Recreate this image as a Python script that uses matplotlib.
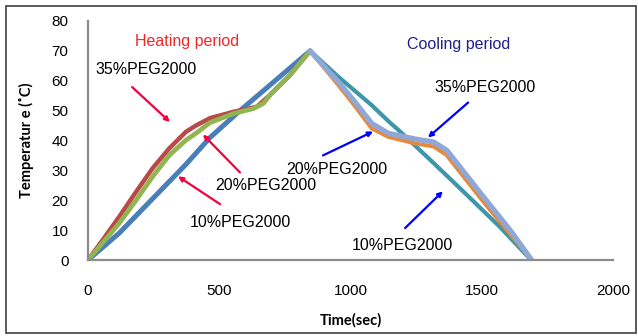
import matplotlib
matplotlib.use('Agg')
import matplotlib.pyplot as plt
from matplotlib.patches import Rectangle

# Heizphase (Zeit in s, Temperatur in °C)
t_heat_10 = [0, 119, 246, 373, 465, 579, 706, 846]
T_heat_10 = [0, 9, 20.5, 32, 41, 50, 59.5, 70]
t_heat_35 = [0, 56, 119, 183, 246, 310, 373, 411, 465, 554, 643, 693, 770, 846]
T_heat_35 = [0, 6.7, 14.5, 22.8, 30.7, 37.4, 42.9, 45, 47.5, 49.6, 51.3, 55.2, 61.9, 70]
t_heat_20 = [0, 119, 183, 246, 310, 373, 411, 465, 554, 630, 668, 693, 770, 846]
T_heat_20 = [0, 12.3, 20, 27.9, 35.1, 40.1, 42.4, 46, 49, 50.7, 52.4, 55.2, 62, 70]

# Abkuehlphase
t_cool_10 = [846, 954, 1081, 1144, 1189, 1316, 1443, 1570, 1688]
T_cool_10 = [70, 61.3, 51.8, 46.5, 43, 32.5, 21.8, 11, 0]
t_cool_20 = [846, 954, 1017, 1081, 1144, 1246, 1316, 1366, 1506, 1690]
T_cool_20 = [70, 58.5, 51.5, 44, 41.2, 39, 38, 35.1, 19.5, 0]
t_cool_35 = [846, 954, 1017, 1081, 1144, 1246, 1316, 1366, 1506, 1608, 1690]
T_cool_35 = [70, 59.6, 52.9, 45.7, 42.4, 40.5, 39.5, 36.8, 21.2, 10, 0]

x_ticks = [0, 500, 1000, 1500, 2000]
y_ticks = [0, 10, 20, 30, 40, 50, 60, 70, 80]

fig = plt.figure(figsize=(6.38, 3.36), dpi=100)
ax = fig.add_axes([88/638, 76/336, 525/638, 239/336])

kw = dict(solid_capstyle='round', solid_joinstyle='round')
ax.plot(t_heat_10, T_heat_10, color='#4A7EBB', lw=3.6, **kw)
ax.plot(t_heat_35, T_heat_35, color='#B84A47', lw=3.2, **kw)
ax.plot(t_heat_20, T_heat_20, color='#92B552', lw=3.4, **kw)
ax.plot(t_cool_10, T_cool_10, color='#3D97A8', lw=3.0, **kw)
ax.plot(t_cool_20, T_cool_20, color='#E8883A', lw=2.8, **kw)
ax.plot(t_cool_35, T_cool_35, color='#8FA8D6', lw=3.8, **kw)

ax.set_xlim(0, 2000)
ax.set_ylim(0, 80)
ax.set_xticks(x_ticks)
ax.set_yticks(y_ticks)
ax.tick_params(length=0, labelsize=11)
ax.tick_params(axis='x', pad=17)
ax.tick_params(axis='y', pad=14)
for lbl in ax.get_xticklabels() + ax.get_yticklabels():
    lbl.set_fontfamily('Liberation Sans')
for s in ['top', 'right']:
    ax.spines[s].set_visible(False)
for s in ['left', 'bottom']:
    ax.spines[s].set_color('#8C8C8C')
    ax.spines[s].set_linewidth(1.6)

ax.set_xlabel('Time(sec)', fontsize=10.5, fontweight='bold', family='Lato', labelpad=11)
ax.set_ylabel('Temperatur e (˚C)', fontsize=10.5, fontweight='bold', family='Lato', labelpad=13)

tf = dict(family='Liberation Sans', fontsize=11.5, ha='center', va='center')
ax.text(377, 73, 'Heating period', color='#F02828', **tf)
ax.text(1413, 72, 'Cooling period', color='#1F1F8C', **tf)

red = '#F5003D'
blue = '#0000FF'
labels = [
    ('35%PEG2000', (221, 63.6), (168, 57.9), (312, 46.2), red),
    ('20%PEG2000', (678, 25.1), (579, 29.3), (438, 42), red),
    ('10%PEG2000', (579, 12.7), (503, 18.7), (343, 28), red),
    ('35%PEG2000', (1512, 57.9), (1448, 52.7), (1295, 41), blue),
    ('20%PEG2000', (949, 30.3), (895, 35), (1086, 43), blue),
    ('10%PEG2000', (1196, 4.7), (1208, 10.7), (1352, 23), blue),
]
for txt, pos, start, end, c in labels:
    ax.text(pos[0], pos[1], txt, color='black', **tf)
    ax.annotate('', xy=end, xytext=start,
                arrowprops=dict(arrowstyle='-|>', color=c, lw=1.6, mutation_scale=7,
                                shrinkA=0, shrinkB=0))

fig.patches.append(Rectangle((6/638, 3/336), 630/638, 327/336, transform=fig.transFigure,
                             fill=False, edgecolor='#404040', lw=1.2))

fig.savefig('out.png', dpi=100)
